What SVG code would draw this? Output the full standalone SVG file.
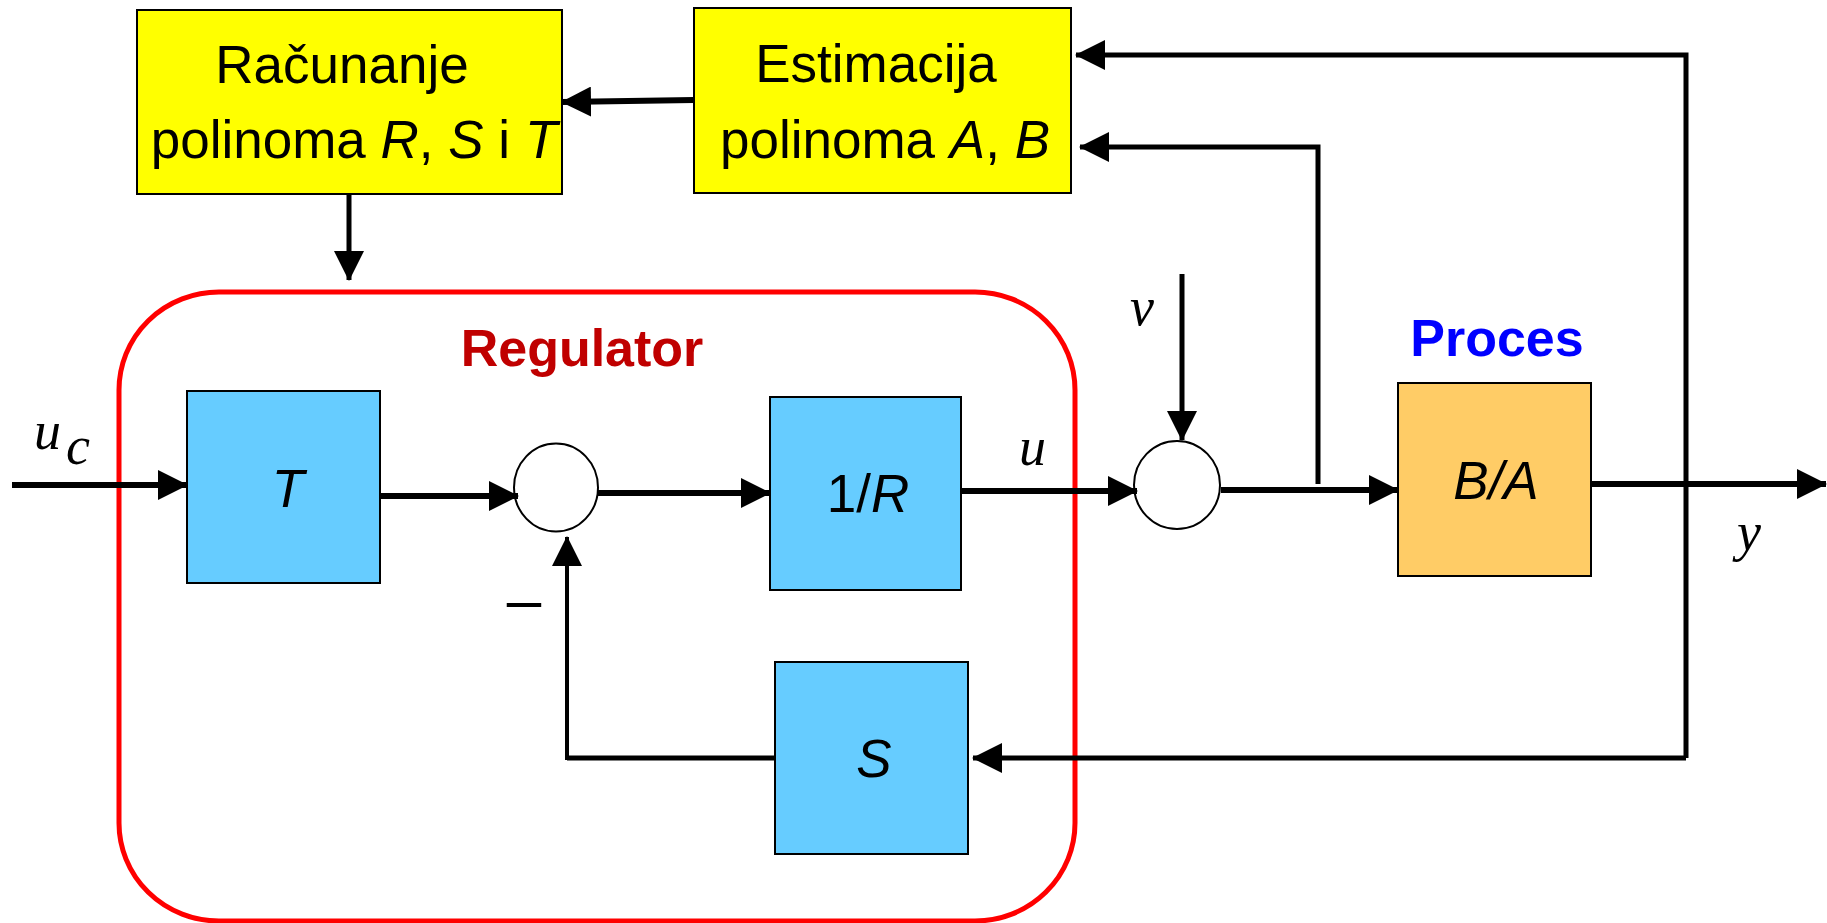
<svg xmlns="http://www.w3.org/2000/svg" width="1827" height="923" viewBox="0 0 1827 923">
<defs>
<style>
.box{stroke:#000;stroke-width:2}
.yel{fill:#FFFF00}
.blue{fill:#66CCFF}
.org{fill:#FFCC66}
.sum{fill:#fff;stroke:#000;stroke-width:2}
.t{font-family:"Liberation Sans",Arial,sans-serif;font-size:53px;fill:#000;text-anchor:middle}
.it{font-style:italic}
.sig{font-family:"Liberation Serif","Times New Roman",serif;font-style:italic;font-size:54px;fill:#000}
.ttl{font-family:"Liberation Sans",Arial,sans-serif;font-weight:bold;font-size:52px;text-anchor:middle}
.c{fill:none;stroke:#000;stroke-width:6}
.c5{fill:none;stroke:#000;stroke-width:5}
.c4{fill:none;stroke:#000;stroke-width:4}
</style>
<marker id="ah" markerUnits="userSpaceOnUse" markerWidth="30" markerHeight="30" refX="29" refY="15" orient="auto" viewBox="0 0 30 30">
<path d="M0,0 L30,15 L0,30 z" fill="#000"/>
</marker>
</defs>
<rect width="1827" height="923" fill="#fff"/>

<g id="regulator">
<rect x="119" y="292" width="956" height="629" rx="100" ry="98" fill="none" stroke="#FF0000" stroke-width="5"/>
<text class="ttl" x="582" y="366" fill="#C00000">Regulator</text>
</g>

<g id="racunanje">
<rect class="box yel" x="137" y="10" width="425" height="184"/>
<text class="t" x="342" y="83">Računanje</text>
<text class="t" x="354" y="158">polinoma <tspan class="it">R</tspan>, <tspan class="it">S</tspan> i <tspan class="it">T</tspan></text>
</g>

<g id="estimacija">
<rect class="box yel" x="694" y="8" width="377" height="185"/>
<text class="t" x="876" y="82">Estimacija</text>
<text class="t" x="885" y="158">polinoma <tspan class="it">A</tspan>, <tspan class="it">B</tspan></text>
</g>

<g id="T">
<rect class="box blue" x="187" y="391" width="193" height="192"/>
<text class="t it" x="288" y="507">T</text>
</g>

<g id="sum1">
<ellipse class="sum" cx="556" cy="487.5" rx="42" ry="44"/>
</g>

<g id="invR">
<rect class="box blue" x="770" y="397" width="191" height="193"/>
<text class="t" x="868" y="512">1/<tspan class="it">R</tspan></text>
</g>

<g id="S">
<rect class="box blue" x="775" y="662" width="193" height="192"/>
<text class="t it" x="874" y="777">S</text>
</g>

<g id="sum2">
<ellipse class="sum" cx="1177" cy="485" rx="43" ry="44"/>
</g>

<g id="proces">
<rect class="box org" x="1398" y="383" width="193" height="193"/>
<text class="t it" x="1496" y="499">B/A</text>
<text class="ttl" x="1497" y="356" fill="#0000FF">Proces</text>
</g>

<g id="connectors">
<path class="c" d="M694,100 L562,102" marker-end="url(#ah)"/>
<path class="c5" d="M349,194 V280" marker-end="url(#ah)"/>
<path class="c" d="M12,485 H187" marker-end="url(#ah)"/>
<path class="c" d="M380,496 H518" marker-end="url(#ah)"/>
<path class="c" d="M598,493 H770" marker-end="url(#ah)"/>
<path class="c" d="M961,491 H1137" marker-end="url(#ah)"/>
<path class="c5" d="M1182,274 V440" marker-end="url(#ah)"/>
<path class="c" d="M1221,490 H1398" marker-end="url(#ah)"/>
<path class="c5" d="M1318,484 V147 H1080" marker-end="url(#ah)"/>
<path class="c" d="M1591,484 H1826" marker-end="url(#ah)"/>
<path class="c5" d="M1686,758 V55 H1076" marker-end="url(#ah)"/>
<path class="c5" d="M1686,758 H973" marker-end="url(#ah)"/>
<path class="c5" d="M775,758 H567"/>
<path class="c4" d="M567,760 V537" marker-end="url(#ah)"/>
</g>

<g id="labels">
<text class="sig" x="34" y="449">u</text>
<text class="sig" x="66" y="464" font-size="38">c</text>
<text class="sig" x="1019" y="465">u</text>
<text class="sig" x="1130" y="325">v</text>
<text class="sig" x="1737" y="550">y</text>
<text x="524" y="621" font-family="Liberation Sans,Arial,sans-serif" font-size="62" text-anchor="middle">–</text>
</g>
</svg>
